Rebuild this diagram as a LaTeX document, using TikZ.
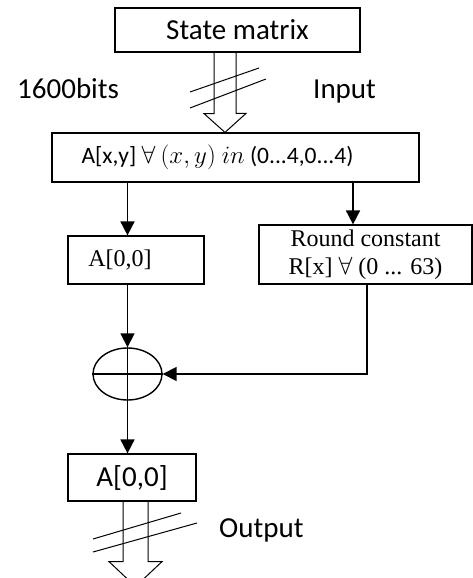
\documentclass[tikz,border=0pt]{standalone}
\usepackage{fontspec}
\setmainfont{Liberation Serif}
\newfontfamily\calfont{Carlito}
\usetikzlibrary{arrows.meta,shapes.geometric}

\tikzset{
  blk/.style={draw,line width=1.2pt,rectangle,inner sep=0pt},
  flow/.style={line width=1.7pt,-{Triangle[width=14pt,length=14pt]}},
  fat/.style={line width=1pt,line join=miter},
  big/.style={font=\calfont\fontsize{29}{34}\selectfont},
  mid/.style={font=\calfont\fontsize{23.5}{27}\selectfont},
  ser/.style={font=\fontsize{24}{28}\selectfont}
}
\newcommand{\mathpart}{{\fontsize{27}{30}\selectfont$(x,y)$ $in$}}

\begin{document}
\begin{tikzpicture}[x=1pt,y=-1pt]
\useasboundingbox (0,0) rectangle (473,578);
% boxes
\node[blk,big,minimum width=245,minimum height=44](state) at (237.5,30){State matrix};
\node[blk,mid,minimum width=367,minimum height=49](inbox) at (235.5,157.5)
  {A[x,y] $\forall$ \mathpart{} (0...4,0...4)\kern36pt};
\node[blk,ser,minimum width=136,minimum height=48](a00) at (136,260){A[0,0]\kern32pt};
\node[blk,ser,align=center,minimum width=213,minimum height=59](rc) at (365.5,254.5)
  {Round constant\\R[x] $\forall$ (0 ... 63)};
\node[draw,line width=1.4pt,ellipse,minimum width=69,minimum height=52,inner sep=0pt](xor) at (127.5,374){};
\draw[line width=1.4pt](xor.north)--(xor.south) (xor.west)--(xor.east);
\node[blk,big,minimum width=128,minimum height=47](aout) at (132,477.5){A[0,0]};
% labels
\node[big,anchor=base west,inner sep=0pt](bits) at (17,98){1600bits};
\node[big,anchor=base west,inner sep=0pt](inlab) at (313,98){Input};
\node[big,anchor=base west,inner sep=0pt](outlab) at (219,537){Output};
% wide arrows
\coordinate (inA) at (225,52);
\draw[fat] (inA |- state.south) ++(-11,0) -- ++(0,61) -- ++(-10,0) -- (inA |- inbox.north)
  -- ++(21,-19) -- ++(-10,0) -- ++(0,-61);
\draw[fat] (190,92)--(259,68) (190,108)--(266,79);
\coordinate (outA) at (135.5,501);
\draw[fat] (outA |- aout.south) ++(-12.5,0) -- ++(0,60) -- ++(-14,0) -- ++(26.5,25)
  -- ++(26.5,-25) -- ++(-14,0) -- ++(0,-60);
\draw[fat] (93,539)--(181,513) (93,552)--(197,523);
% connectors
\draw[flow] (inbox.south -| xor.north) -- (a00.north -| xor.north);
\draw[flow] ([xshift=-12.5]rc.north |- inbox.south) -- ([xshift=-12.5]rc.north);
\draw[flow] (a00.south -| xor.north) -- (xor.north);
\draw[flow] ([xshift=1.5]rc.south) |- (xor.east);
\draw[flow] (xor.south) -- (xor.south |- aout.north);
\end{tikzpicture}
\end{document}
